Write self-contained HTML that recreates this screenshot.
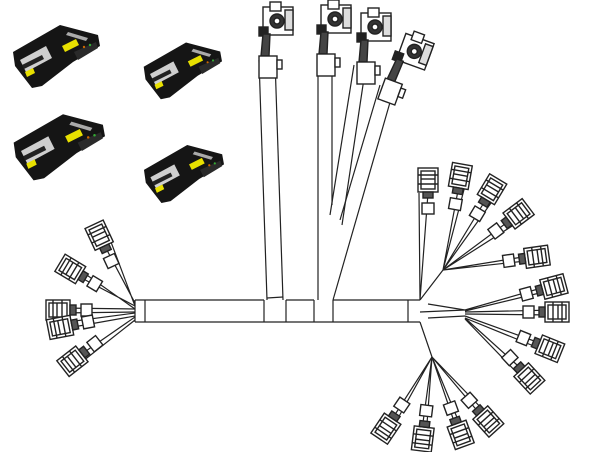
<!DOCTYPE html>
<html><head><meta charset="utf-8"><style>
html,body{margin:0;padding:0;background:#fff;width:600px;height:452px;overflow:hidden}
</style></head><body>
<svg width="600" height="452" viewBox="0 0 600 452" xmlns="http://www.w3.org/2000/svg">
<defs>
<g id="ecu">
<polygon points="13,52 60,25 98,35 100,46 73,62 42,86 32,88 15,66" fill="#151515"/>
<polygon points="20,60 46,46 52,58 26,72" fill="#cfcfcf"/>
<polygon points="22,65 42,55 44,59 24,69" fill="#222"/>
<polygon points="25,72 33,68 35,73 27,77" fill="#e8e000"/>
<polygon points="62,46 76,39 79,45 65,52" fill="#e8e000"/>
<polygon points="68,32 88,38 86,41 66,35" fill="#aaa"/>
<polygon points="74,52 96,42 98,48 78,60" fill="#2a2a2a"/>
<circle cx="84" cy="47" r="1.2" fill="#c60"/>
<circle cx="90" cy="45" r="1.2" fill="#3a3"/>
</g>
<g id="conn" fill="#fff" stroke="#222" stroke-width="1.4">
<rect x="-14" y="-10" width="24" height="20"/>
<rect x="-11" y="-7" width="18" height="14"/>
<line x1="-7" y1="-10" x2="-7" y2="10"/>
<line x1="-3" y1="-7" x2="-3" y2="7"/>
<line x1="2" y1="-10" x2="2" y2="10"/>
<rect x="10" y="-5" width="6" height="10" fill="#555"/>
<rect x="21" y="-6" width="11" height="12"/>
</g>
<g id="top" stroke="#222" stroke-width="1.4" fill="#fff">
<rect x="-13" y="-15" width="30" height="28"/>
<rect x="-6" y="-20" width="11" height="9"/>
<rect x="9" y="-12" width="8" height="20" fill="#ddd"/>
<circle cx="1" cy="-1" r="7" fill="#333"/>
<circle cx="1" cy="-1" r="3" fill="#fff"/>
<rect x="-17" y="5" width="9" height="9" fill="#222"/>
<path d="M-13 12 L-15 34 L-7 34 L-6 12 Z" fill="#444"/>
<rect x="-17" y="34" width="18" height="22"/>
<rect x="1" y="38" width="5" height="9"/>
</g>
</defs>

<use href="#ecu"/>
<use href="#ecu" transform="translate(132,20) scale(0.9)"/>
<use href="#ecu" transform="translate(0,88) scale(1.05)"/>
<use href="#ecu" transform="translate(132,122) scale(0.92)"/>

<g fill="none" stroke="#222" stroke-width="1.2">
<line x1="135" y1="300" x2="264" y2="300"/>
<line x1="286" y1="300" x2="314" y2="300"/>
<line x1="333" y1="300" x2="420" y2="300"/>
<line x1="135" y1="322" x2="420" y2="322"/>
<line x1="135" y1="300" x2="135" y2="322"/>
<line x1="145" y1="300" x2="145" y2="322"/>
<line x1="264" y1="300" x2="264" y2="322"/>
<line x1="286" y1="300" x2="286" y2="322"/>
<line x1="314" y1="300" x2="314" y2="322"/>
<line x1="333" y1="300" x2="333" y2="322"/>
<line x1="408" y1="300" x2="408" y2="322"/>
<line x1="259" y1="60" x2="267" y2="300"/>
<line x1="275" y1="60" x2="283" y2="300"/>
<line x1="267" y1="298" x2="283" y2="297"/>
<line x1="318" y1="60" x2="318" y2="300"/>
<line x1="332" y1="60" x2="332" y2="205"/>
<line x1="333" y1="300" x2="395" y2="85"/>
<line x1="380" y1="85" x2="340" y2="220"/>
<line x1="354" y1="65" x2="330" y2="215"/>
<line x1="366" y1="65" x2="342" y2="225"/>
<path d="M135 303 L100 237 M135 306 L108 234"/>
<path d="M135 306 L70 272 M135 309 L74 266"/>
<path d="M135 309 L60 308 M135 312 L60 313"/>
<path d="M135 313 L60 323 M135 316 L62 329"/>
<path d="M135 317 L73 360 M135 320 L78 365"/>
<path d="M420 300 L419 193 M420 300 L428 193"/>
<path d="M420 300 L443 270 M420 322 L432 357"/>
<path d="M428 304 L465 310 L420 312"/>
<path d="M428 318 L465 316"/>
<path d="M443 270 L460 180 M443 270 L466 182"/>
<path d="M443 270 L491 191 M443 270 L496 196"/>
<path d="M443 270 L517 215 M443 270 L520 221"/>
<path d="M443 270 L535 255 M443 270 L535 260"/>
<path d="M465 310 L552 285 M465 311 L552 290"/>
<path d="M465 312 L555 310 M465 314 L555 315"/>
<path d="M465 316 L548 346 M465 318 L546 351"/>
<path d="M465 318 L527 374 M465 319 L523 379"/>
<path d="M432 357 L387 427 M432 357 L392 429"/>
<path d="M432 357 L421 437 M432 357 L426 437"/>
<path d="M432 357 L458 433 M432 357 L463 432"/>
<path d="M432 357 L485 420 M432 357 L489 416"/>
</g>

<use href="#top" transform="translate(276,22)"/>
<use href="#top" transform="translate(334,20)"/>
<use href="#top" transform="translate(374,28)"/>
<use href="#top" transform="translate(413,52) rotate(20)"/>
<use href="#conn" transform="translate(100,237) rotate(65)"/>
<use href="#conn" transform="translate(72,270) rotate(31)"/>
<use href="#conn" transform="translate(60,310) rotate(0)"/>
<use href="#conn" transform="translate(62,327) rotate(-11)"/>
<use href="#conn" transform="translate(74,360) rotate(-38)"/>
<use href="#conn" transform="translate(428,182) rotate(90)"/>
<use href="#conn" transform="translate(460,178) rotate(100)"/>
<use href="#conn" transform="translate(491,191) rotate(121)"/>
<use href="#conn" transform="translate(517,215) rotate(143)"/>
<use href="#conn" transform="translate(535,257) rotate(172)"/>
<use href="#conn" transform="translate(552,287) rotate(165)"/>
<use href="#conn" transform="translate(555,312) rotate(180)"/>
<use href="#conn" transform="translate(548,348) rotate(202)"/>
<use href="#conn" transform="translate(528,377) rotate(227)"/>
<use href="#conn" transform="translate(387,427) rotate(-56)"/>
<use href="#conn" transform="translate(423,437) rotate(-83)"/>
<use href="#conn" transform="translate(460,433) rotate(-110)"/>
<use href="#conn" transform="translate(487,420) rotate(-132)"/>
</svg>
</body></html>
